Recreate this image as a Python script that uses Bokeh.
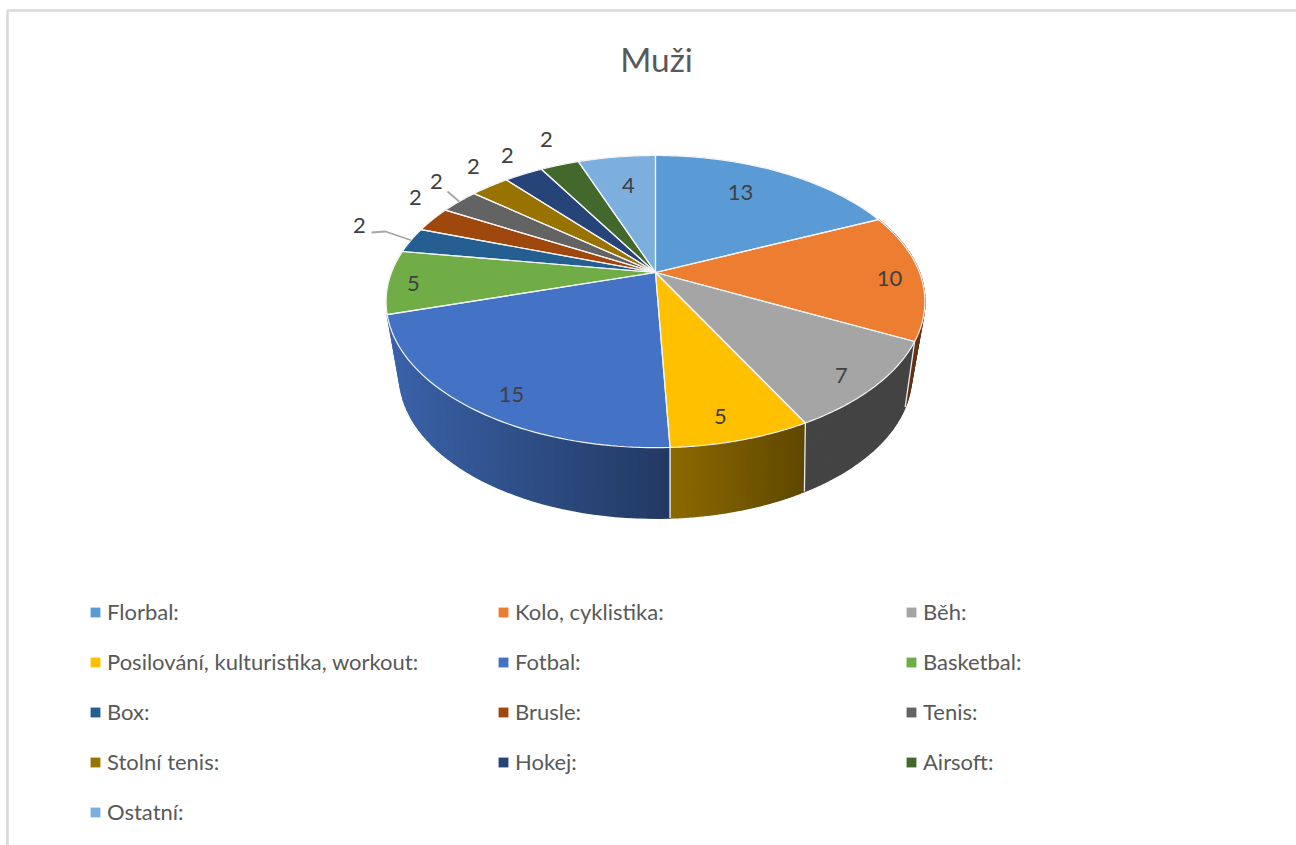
import numpy as np
from bokeh.plotting import figure
from bokeh.models import Range1d, Legend, LegendItem
from bokeh.core.properties import value
from bokeh.embed import file_html
from bokeh.resources import INLINE

# ---------- data ----------
title_text = "Muži"
categories = ["Florbal:", "Kolo, cyklistika:", "Běh:", "Posilování, kulturistika, workout:",
              "Fotbal:", "Basketbal:", "Box:", "Brusle:", "Tenis:", "Stolní tenis:",
              "Hokej:", "Airsoft:", "Ostatní:"]
values = [13, 10, 7, 5, 15, 5, 2, 2, 2, 2, 2, 2, 4]
colors = ["#5B9BD5", "#ED7D31", "#A5A5A5", "#FFC000", "#4472C4", "#70AD47", "#255E91",
          "#9E480E", "#636363", "#997300", "#264478", "#43682B", "#7CAFDD"]

# ---------- layout and style ----------
FONT = "Lato"
# side-wall shading per visible slice (index: shade at its clockwise start, shade at its end), linear in x
side_shade = {1: (0.42, 0.42), 2: (0.41, 0.41), 3: (0.37, 0.55), 4: (0.50, 0.86)}
side_order = [1, 2, 4, 3]
label_xy = [(740, 192), (889, 278), (841, 375), (720, 416), (511, 394), (413, 283), (359, 225),
            (415, 197), (436, 181), (473, 166), (507, 155), (546, 139), (628, 185)]
# leader lines: slice index -> points of the line before it reaches the slice edge
leaders = {6: [(371, 232), (385, 231)], 8: [(447, 191)]}

CX, CY = 655, 272
A, B, K = 264, 140.3, 0.199          # top disc perspective
A2, B2, K2, CY2 = 248, 134, 0.25, 339  # bottom disc perspective


def top_xy(theta, r=1.0):
    u, v = r * np.sin(theta), r * np.cos(theta)
    d = 1 + K * v
    return CX + A * u / d, CY - B * v / d


def bottom_xy(theta):
    u, v = np.sin(theta), np.cos(theta)
    d = 1 + K2 * v
    return CX + A2 * u / d, CY2 - B2 * v / d


def shade(hex_color, f):
    rgb = [int(hex_color[i:i + 2], 16) for i in (1, 3, 5)]
    return "#%02x%02x%02x" % tuple(int(round(c * f)) for c in rgb)


vals = np.array(values, dtype=float)
edges = np.concatenate([[0], np.cumsum(vals)]) / vals.sum() * 2 * np.pi

p = figure(width=1296, height=845, x_range=Range1d(0, 1296), y_range=Range1d(845, 0),
           toolbar_location=None, output_backend="svg", min_border=0,
           background_fill_color="white", border_fill_color="white", outline_line_color=None)
p.axis.visible = False
p.grid.visible = False

# chart frame
p.line([7, 7, 1296], [845, 10, 10], line_color="#d9d9d9", line_width=2.5)

# side walls
for i in side_order:
    t = np.linspace(edges[i], edges[i + 1], 41)
    s0, s1 = side_shade[i]
    xt, yt = top_xy(t)
    xb, yb = bottom_xy(t)
    xs, ys, cs = [], [], []
    for j in range(len(t) - 1):
        xs.append([xt[j], xt[j + 1], xb[j + 1], xb[j]])
        ys.append([yt[j], yt[j + 1], yb[j + 1], yb[j]])
        frac = ((xt[j] + xt[j + 1]) / 2 - xt[0]) / (xt[-1] - xt[0])
        cs.append(shade(colors[i], s0 + (s1 - s0) * frac))
    p.patches(xs, ys, fill_color=cs, line_color=cs, line_width=1.5)

# white separators on the side walls
for i in (2, 3, 4):
    xa, ya = top_xy(edges[i])
    xc, yc = bottom_xy(edges[i])
    p.line([xa, xc], [ya, yc], line_color="#ececec", line_width=1.3)

# top faces
items = []
for i, name in enumerate(categories):
    t = np.linspace(edges[i], edges[i + 1], 60)
    x, y = top_xy(t)
    r = p.patch(np.r_[CX, x], np.r_[CY, y], fill_color=colors[i], line_color=colors[i], line_width=0.2)
    items.append(LegendItem(label=value(name), renderers=[r]))
for i in range(len(categories)):
    t = np.linspace(edges[i], edges[i + 1], 60)
    x, y = top_xy(t)
    p.line(np.r_[CX, x, CX], np.r_[CY, y, CY], line_color="#f4f4f4", line_width=1.2)

# leader lines
for i, pts in leaders.items():
    ex, ey = top_xy((edges[i] + edges[i + 1]) / 2)
    p.line([q[0] for q in pts] + [ex], [q[1] for q in pts] + [ey], line_color="#a6a6a6", line_width=1.8)

# data labels
p.text([q[0] for q in label_xy], [q[1] for q in label_xy], text=[str(v) for v in values],
       text_font=value(FONT), text_font_size="22px", text_color="#404040",
       text_align="center", text_baseline="middle")

# title
p.text([656], [58], text=[title_text], text_font=value(FONT), text_font_size="33.5px",
       text_color="#595959", text_align="center", text_baseline="middle")

legend = Legend(items=items, ncols=3, orientation="horizontal", location=(89, 20),
                glyph_width=12, glyph_height=12, label_standoff=6, label_width=367, label_height=20,
                spacing=23, padding=0, margin=0, border_line_color=None, background_fill_alpha=0,
                label_text_font=FONT, label_text_font_size="22px", label_text_color="#595959")
p.add_layout(legend, "center")

open("out.html", "w").write(file_html(p, INLINE))
